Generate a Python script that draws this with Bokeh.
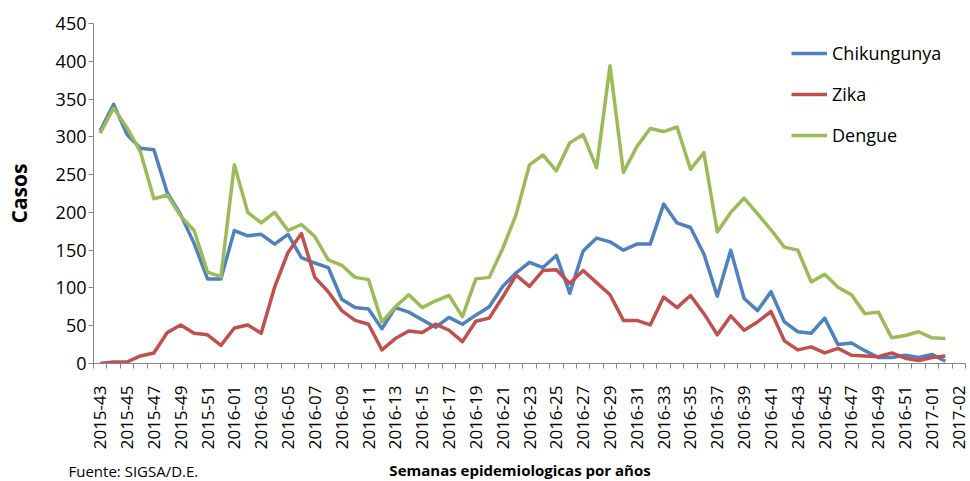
import math
from bokeh.plotting import figure
from bokeh.layouts import column
from bokeh.models import Range1d, FixedTicker, Legend, LegendItem, Label
from bokeh.embed import file_html
from bokeh.resources import INLINE

tick_labels = ["2015-43", "2015-45", "2015-47", "2015-49", "2015-51",
               "2016-01", "2016-03", "2016-05", "2016-07", "2016-09",
               "2016-11", "2016-13", "2016-15", "2016-17", "2016-19",
               "2016-21", "2016-23", "2016-25", "2016-27", "2016-29",
               "2016-31", "2016-33", "2016-35", "2016-37", "2016-39",
               "2016-41", "2016-43", "2016-45", "2016-47", "2016-49",
               "2016-51", "2017-01", "2017-02"]

chikungunya = [308, 343, 303, 285, 283, 226, 197, 159, 112, 112,
               176, 169, 171, 158, 171, 140, 133, 127, 85, 74,
               72, 46, 74, 68, 58, 48, 61, 52, 64, 75,
               102, 120, 134, 127, 143, 93, 149, 166, 161, 150,
               158, 158, 211, 186, 180, 145, 89, 150, 86, 70,
               95, 55, 42, 40, 60, 25, 27, 17, 8, 8,
               11, 8, 12, 3]

zika = [0, 2, 2, 10, 14, 41, 51, 40, 38, 24,
        47, 51, 40, 101, 147, 172, 114, 95, 70, 57,
        52, 18, 33, 43, 41, 52, 44, 29, 56, 60,
        88, 117, 102, 123, 124, 106, 123, 107, 91, 57,
        57, 51, 88, 74, 90, 66, 38, 63, 44, 55,
        69, 30, 18, 22, 14, 20, 11, 10, 9, 14,
        7, 4, 8, 10]

dengue = [305, 338, 312, 280, 218, 223, 195, 176, 121, 115,
          263, 200, 186, 200, 176, 184, 168, 137, 130, 114,
          111, 55, 75, 91, 74, 83, 90, 62, 112, 114,
          152, 197, 263, 276, 255, 292, 303, 259, 394, 253,
          287, 311, 307, 313, 257, 279, 174, 200, 219, 198,
          177, 154, 150, 108, 118, 101, 91, 66, 68, 34,
          37, 42, 34, 33]

y_ticks = [0, 50, 100, 150, 200, 250, 300, 350, 400, 450]

FONT = "Open Sans"
AXIS_COLOR = "#868686"

W = 970
H_MAIN, H_FOOT = 458, 23

n_cats = len(tick_labels) * 2 - 1
xs = list(range(len(chikungunya)))

p = figure(width=W, height=H_MAIN, output_backend="svg", toolbar_location=None,
           x_range=Range1d(-0.5, n_cats - 0.5), y_range=Range1d(0, 450),
           min_border_left=93, min_border_right=5, min_border_top=23,
           min_border_bottom=95)
p.outline_line_color = None
p.xgrid.visible = False
p.ygrid.visible = False

r1 = p.line(xs, chikungunya, line_color="#4F81BD", line_width=3.5, line_join="round")
r2 = p.line(xs, zika, line_color="#C0504D", line_width=3.5, line_join="round")
r3 = p.line(xs, dengue, line_color="#9BBB59", line_width=3.5, line_join="round")

# x axis
xt = list(range(0, n_cats, 2))
p.xaxis.ticker = FixedTicker(ticks=xt, minor_ticks=[i - 0.5 for i in range(n_cats + 1)])
p.xaxis.major_label_overrides = {t: lbl for t, lbl in zip(xt, tick_labels)}
p.xaxis.major_label_orientation = math.pi / 2
p.xaxis.major_tick_out = 0
p.xaxis.major_tick_in = 0
p.xaxis.minor_tick_out = 5
p.xaxis.minor_tick_in = 0
p.xaxis.minor_tick_line_color = AXIS_COLOR
p.xaxis.axis_line_color = AXIS_COLOR
p.xaxis.major_label_text_font = FONT
p.xaxis.major_label_text_font_size = "17px"
p.xaxis.major_label_text_color = "black"
p.xaxis.major_label_standoff = 17

# y axis
p.yaxis.ticker = FixedTicker(ticks=y_ticks)
p.yaxis.major_tick_out = 5
p.yaxis.major_tick_in = 0
p.yaxis.minor_tick_out = 0
p.yaxis.minor_tick_in = 0
p.yaxis.major_tick_line_color = AXIS_COLOR
p.yaxis.axis_line_color = AXIS_COLOR
p.yaxis.major_label_text_font = FONT
p.yaxis.major_label_text_font_size = "18px"
p.yaxis.major_label_text_color = "black"
p.yaxis.major_label_standoff = 2
p.yaxis.axis_label = "Casos"
p.yaxis.axis_label_text_font = FONT
p.yaxis.axis_label_text_font_size = "21px"
p.yaxis.axis_label_text_font_style = "bold"
p.yaxis.axis_label_text_color = "black"
p.yaxis.axis_label_standoff = 20

legend = Legend(items=[LegendItem(label="Chikungunya", renderers=[r1]),
                       LegendItem(label="Zika", renderers=[r2]),
                       LegendItem(label="Dengue", renderers=[r3])],
                location=(698, 216), label_text_font=FONT, label_text_font_size="18px",
                label_text_color="black", glyph_width=36, glyph_height=20,
                label_height=20, spacing=17, padding=0, margin=0, label_standoff=5,
                border_line_color=None, background_fill_alpha=0)
p.add_layout(legend)

# footer strip holding the x-axis title and the source note
foot = figure(width=W, height=H_FOOT, output_backend="svg", toolbar_location=None,
              x_range=Range1d(0, W), y_range=Range1d(0, H_FOOT),
              x_axis_type=None, y_axis_type=None,
              min_border_left=0, min_border_right=0, min_border_top=0, min_border_bottom=0)
foot.frame_align = False
foot.outline_line_color = None
foot.xgrid.visible = False
foot.ygrid.visible = False
foot.add_layout(Label(x=519.5, y=12, text="Semanas epidemiologicas por años",
                      text_font=FONT, text_font_size="15px", text_font_style="bold",
                      text_color="black", text_align="center", text_baseline="middle"))
foot.add_layout(Label(x=68, y=10.5, text="Fuente: SIGSA/D.E.",
                      text_font=FONT, text_font_size="15px",
                      text_color="black", text_align="left", text_baseline="middle"))

layout = column(p, foot, spacing=0)
open("out.html", "w").write(file_html(layout, INLINE))
